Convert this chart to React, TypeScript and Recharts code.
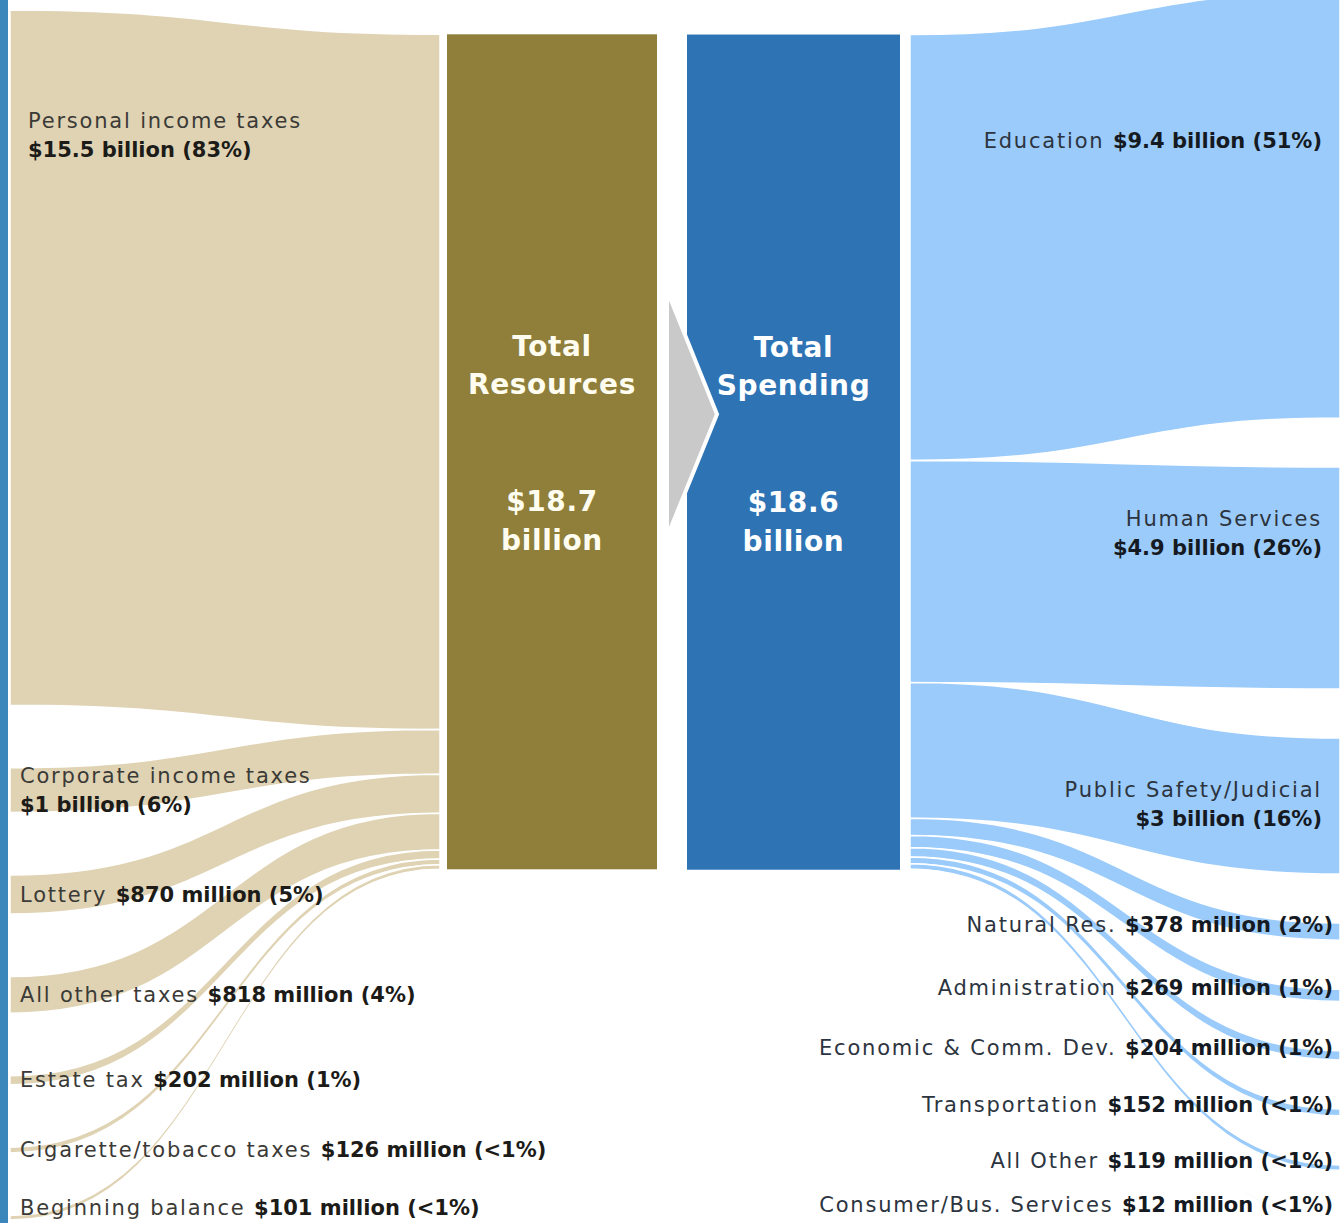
import React from "react";
import { Sankey } from "recharts";

// Where the money comes from (billions of dollars)
const sourceNames = [
  "Personal income taxes",
  "Corporate income taxes",
  "Lottery",
  "All other taxes",
  "Estate tax",
  "Cigarette/tobacco taxes",
  "Beginning balance",
];
const sourceValues = [15.5, 1.0, 0.87, 0.818, 0.202, 0.126, 0.101];
const sourceAmounts = [
  "$15.5 billion (83%)",
  "$1 billion (6%)",
  "$870 million (5%)",
  "$818 million (4%)",
  "$202 million (1%)",
  "$126 million (<1%)",
  "$101 million (<1%)",
];

// Where it goes (billions of dollars)
const useNames = [
  "Education",
  "Human Services",
  "Public Safety/Judicial",
  "Natural Res.",
  "Administration",
  "Economic & Comm. Dev.",
  "Transportation",
  "All Other",
  "Consumer/Bus. Services",
];
const useValues = [9.4, 4.9, 3.0, 0.378, 0.269, 0.204, 0.152, 0.119, 0.012];
const useAmounts = [
  "$9.4 billion (51%)",
  "$4.9 billion (26%)",
  "$3 billion (16%)",
  "$378 million (2%)",
  "$269 million (1%)",
  "$204 million (1%)",
  "$152 million (<1%)",
  "$119 million (<1%)",
  "$12 million (<1%)",
];

const resourcesTitle = ["Total", "Resources"];
const resourcesTotal = ["$18.7", "billion"];
const spendingTitle = ["Total", "Spending"];
const spendingTotal = ["$18.6", "billion"];

const wrapped = new Set([
  "Personal income taxes",
  "Corporate income taxes",
  "Human Services",
  "Public Safety/Judicial",
]);

const BEIGE = "#dfd3b4";
const OLIVE = "#8f7f3a";
const BLUE = "#2e74b5";
const LIGHT_BLUE = "#9bcbfa";
const FONT = "'DejaVu Sans', sans-serif";
const LEFT_NODE_W = 210;
const RIGHT_NODE_W = 213;
const LEFT_H = 1210;
const RIGHT_H = 1228;

const labelStyle = { fontFamily: FONT, fontSize: 21, letterSpacing: 1.8 };
const boldStyle = { fontWeight: 700, letterSpacing: 0 };

const resourceData = {
  nodes: [...sourceNames.map((name) => ({ name })), { name: "Total Resources" }],
  links: sourceValues.map((value, i) => ({ source: i, target: sourceNames.length, value })),
};

const spendingData = {
  nodes: [{ name: "Total Spending" }, ...useNames.map((name) => ({ name }))],
  links: useValues.map((value, i) => ({ source: 0, target: i + 1, value })),
};

function bandPath(x0: number, y0: number, x1: number, y1: number, w: number) {
  const xm = (x0 + x1) / 2;
  const h = w / 2;
  return `M${x0},${y0 - h} C${xm},${y0 - h} ${xm},${y1 - h} ${x1},${y1 - h} L${x1},${y1 + h} C${xm},${y1 + h} ${xm},${y0 + h} ${x0},${y0 + h} Z`;
}

function TotalText({ cx, cy, title, total, fill }: any) {
  const style = { fontFamily: FONT, fontWeight: 700, fontSize: 28, letterSpacing: 0.6 };
  return (
    <g fill={fill} textAnchor="middle" dominantBaseline="central" style={style}>
      <text x={cx} y={cy - 105}>{title[0]}</text>
      <text x={cx} y={cy - 67}>{title[1]}</text>
      <text x={cx} y={cy + 50}>{total[0]}</text>
      <text x={cx} y={cy + 89}>{total[1]}</text>
    </g>
  );
}

function ResourceNode(props: any) {
  const { x, y, width, height, payload } = props;
  const name = payload.name;
  if (name === "Total Resources") {
    return (
      <g>
        <rect x={x} y={y} width={width} height={height} fill={OLIVE} />
        <TotalText cx={x + width / 2} cy={y + height / 2} title={resourcesTitle} total={resourcesTotal} fill="#fffdf0" />
      </g>
    );
  }
  const i = sourceNames.indexOf(name);
  if (wrapped.has(name)) {
    const big = height > 300;
    const tx = x + (big ? 18 : 10);
    const y1 = big ? y + 111 : y + height / 2 - 14.5;
    return (
      <g style={labelStyle} dominantBaseline="central">
        <text x={tx} y={y1} fill="#3b3a36">{name}</text>
        <text x={tx} y={y1 + 29} fill="#1c1b18" style={boldStyle}>{sourceAmounts[i]}</text>
      </g>
    );
  }
  const ty = Math.min(y + height / 2, LEFT_H - 12);
  return (
    <text x={x + 10} y={ty} style={labelStyle} dominantBaseline="central" fill="#3b3a36">
      {name}{" "}
      <tspan fill="#1c1b18" style={boldStyle}>{sourceAmounts[i]}</tspan>
    </text>
  );
}

function SpendingNode(props: any) {
  const { x, y, width, height, payload } = props;
  const name = payload.name;
  if (name === "Total Spending") {
    const cy = y + height / 2;
    return (
      <g>
        <rect x={x} y={y} width={width} height={height} fill={BLUE} />
        <polygon
          points={`${x - 20},${cy - 162} ${x + 30},${cy - 38} ${x - 20},${cy + 85}`}
          fill="#c9c9c9"
          stroke="#ffffff"
          strokeWidth={4}
        />
        <TotalText cx={x + width / 2} cy={cy} title={spendingTitle} total={spendingTotal} fill="#ffffff" />
      </g>
    );
  }
  const i = useNames.indexOf(name);
  const big = height > 100;
  const tx = x + width - (big ? 18 : 7);
  if (wrapped.has(name)) {
    const y1 = y + 52;
    return (
      <g style={labelStyle} dominantBaseline="central" textAnchor="end">
        <text x={tx} y={y1} fill="#2c3440">{name}</text>
        <text x={tx} y={y1 + 29} fill="#151a22" style={boldStyle}>{useAmounts[i]}</text>
      </g>
    );
  }
  const ty = height > 300 ? y + 149 : Math.min(y + height / 2 - 7, RIGHT_H - 15);
  return (
    <text x={tx} y={ty} style={labelStyle} dominantBaseline="central" textAnchor="end" fill="#2c3440">
      {name}{" "}
      <tspan fill="#151a22" style={boldStyle}>{useAmounts[i]}</tspan>
    </text>
  );
}

function ResourceLink(props: any) {
  const { sourceX, targetX, sourceY, targetY, linkWidth } = props;
  return (
    <path
      d={bandPath(sourceX - LEFT_NODE_W, sourceY, targetX - 7, targetY, linkWidth)}
      fill={BEIGE}
      stroke="#ffffff"
      strokeWidth={1.5}
    />
  );
}

function SpendingLink(props: any) {
  const { sourceX, targetX, sourceY, targetY, linkWidth } = props;
  return (
    <path
      d={bandPath(sourceX + 10, sourceY, targetX + RIGHT_NODE_W, targetY, linkWidth)}
      fill={LIGHT_BLUE}
      stroke="#ffffff"
      strokeWidth={1.5}
    />
  );
}

export default function App() {
  return (
    <div style={{ position: "relative", width: 1340, height: 1223, overflow: "hidden", background: "#fff" }}>
      <style>{"body{margin:0}"}</style>
      <div style={{ position: "absolute", left: 0, top: 0, width: 8, height: 1223, background: "#3b87bc" }} />
      <div style={{ position: "absolute", left: 10, top: 10 }}>
        <Sankey
          width={647}
          height={LEFT_H}
          data={resourceData}
          nodeWidth={LEFT_NODE_W}
          nodePadding={62.5}
          margin={{ top: 0, right: 0, bottom: 0, left: 0 }}
          node={ResourceNode}
          link={ResourceLink}
        />
      </div>
      <div style={{ position: "absolute", left: 660, top: -8 }}>
        <Sankey
          width={680}
          height={RIGHT_H}
          data={spendingData}
          nodeWidth={RIGHT_NODE_W}
          nodePadding={49.1}
          margin={{ top: 0, right: 0, bottom: 0, left: 27 }}
          node={SpendingNode}
          link={SpendingLink}
        />
      </div>
    </div>
  );
}
